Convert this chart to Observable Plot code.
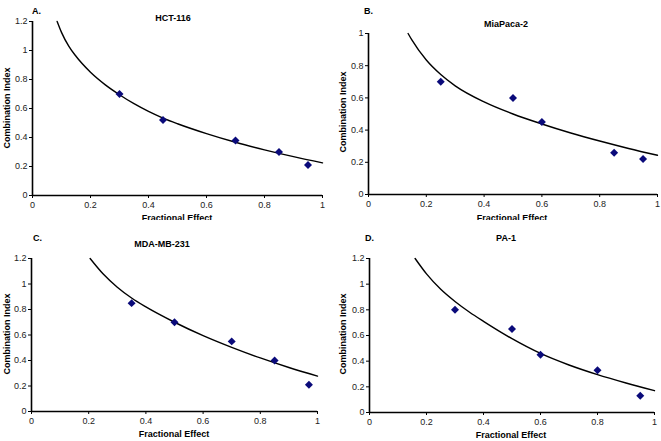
<!DOCTYPE html>
<html>
<head>
<meta charset="utf-8">
<script src="https://cdn.jsdelivr.net/npm/d3@7"></script>
<script src="https://cdn.jsdelivr.net/npm/@observablehq/plot@0.6"></script>
<style>
  html, body { margin: 0; padding: 0; background: #fff; }
  #root { position: relative; width: 661px; height: 441px; overflow: hidden; font-family: "Liberation Sans", Arial, sans-serif; }
  .panel { position: absolute; }
  .lbl { position: absolute; font-size: 9px; font-weight: bold; color: #000; white-space: nowrap; }
  .center { transform: translate(-50%, -50%); }
  .rot { transform: translate(-50%, -50%) rotate(-90deg); }
</style>
</head>
<body>
<div id="root"></div>
<script>
// ---- Data ----
const xTicks = [0, 0.2, 0.4, 0.6, 0.8, 1];
const yTicks12 = [0, 0.2, 0.4, 0.6, 0.8, 1, 1.2];
const yTicks10 = [0, 0.2, 0.4, 0.6, 0.8, 1];

// A. HCT-116
const faA = [0.3, 0.45, 0.7, 0.85, 0.95];
const ciA = [0.7, 0.52, 0.38, 0.3, 0.21];
const curveFaA = [0.085, 0.1, 0.125, 0.15, 0.2, 0.25, 0.3, 0.35, 0.4, 0.45, 0.5, 0.6, 0.7, 0.8, 0.9, 1.0];
const curveCiA = [1.2, 1.125, 1.03, 0.96, 0.85, 0.765, 0.695, 0.633, 0.58, 0.534, 0.495, 0.427, 0.367, 0.315, 0.268, 0.225];

// B. MiaPaca-2
const faB = [0.25, 0.5, 0.6, 0.85, 0.95];
const ciB = [0.7, 0.6, 0.45, 0.26, 0.22];
const curveFaB = [0.137, 0.15, 0.2, 0.25, 0.3, 0.4, 0.5, 0.6, 0.7, 0.8, 0.9, 1.0];
const curveCiB = [1.0, 0.96, 0.835, 0.745, 0.675, 0.575, 0.5, 0.438, 0.382, 0.332, 0.286, 0.244];

// C. MDA-MB-231
const faC = [0.35, 0.5, 0.7, 0.85, 0.97];
const ciC = [0.85, 0.7, 0.55, 0.4, 0.21];
const curveFaC = [0.205, 0.25, 0.3, 0.35, 0.4, 0.5, 0.6, 0.7, 0.8, 0.9, 1.0];
const curveCiC = [1.2, 1.08, 0.975, 0.89, 0.82, 0.7, 0.595, 0.503, 0.42, 0.345, 0.278];

// D. PA-1
const faD = [0.3, 0.5, 0.6, 0.8, 0.95];
const ciD = [0.8, 0.65, 0.45, 0.33, 0.13];
const curveFaD = [0.16, 0.2, 0.25, 0.3, 0.35, 0.4, 0.5, 0.6, 0.7, 0.8, 0.9, 1.0];
const curveCiD = [1.2, 1.08, 0.96, 0.865, 0.783, 0.71, 0.575, 0.46, 0.37, 0.295, 0.23, 0.17];

const panels = [
  {letter: "A.", title: "HCT-116", fa: faA, ci: ciA, cfa: curveFaA, cci: curveCiA, yMax: 1.2, yTicks: yTicks12,
   left: 0, top: 0, width: 330, height: 220, mL: 32, mR: 8, mT: 21, mB: 25,
   letterPos: [32, 6], titlePos: [173, 18], xLabPos: [177, 218], yLabPos: [7, 108]},
  {letter: "B.", title: "MiaPaca-2", fa: faB, ci: ciB, cfa: curveFaB, cci: curveCiB, yMax: 1.0, yTicks: yTicks10,
   left: 330, top: 0, width: 331, height: 220, mL: 38, mR: 4, mT: 33, mB: 26,
   letterPos: [364, 6], titlePos: [506, 24], xLabPos: [512, 218], yLabPos: [343, 112]},
  {letter: "C.", title: "MDA-MB-231", fa: faC, ci: ciC, cfa: curveFaC, cci: curveCiC, yMax: 1.2, yTicks: yTicks12,
   left: 0, top: 220, width: 330, height: 221, mL: 31, mR: 13, mT: 38, mB: 30,
   letterPos: [33, 233], titlePos: [162, 244], xLabPos: [174, 434], yLabPos: [7, 334]},
  {letter: "D.", title: "PA-1", fa: faD, ci: ciD, cfa: curveFaD, cci: curveCiD, yMax: 1.2, yTicks: yTicks12,
   left: 330, top: 220, width: 331, height: 221, mL: 39, mR: 7, mT: 38, mB: 29,
   letterPos: [365, 233], titlePos: [506, 238], xLabPos: [511, 435], yLabPos: [343, 334]}
];

const root = document.getElementById("root");
const fmt = d => String(+d.toFixed(1));

function addLabel(text, pos, cls) {
  const el = document.createElement("div");
  el.className = "lbl " + cls;
  el.textContent = text;
  el.style.left = pos[0] + "px";
  el.style.top = pos[1] + "px";
  root.appendChild(el);
}

for (const p of panels) {
  const points = p.fa.map((x, i) => ({x, y: p.ci[i]}));
  const curve = p.cfa.map((x, i) => ({x, y: p.cci[i]}));
  const chart = Plot.plot({
    width: p.width,
    height: p.height,
    marginLeft: p.mL,
    marginRight: p.mR,
    marginTop: p.mT,
    marginBottom: p.mB,
    style: {fontFamily: "'Liberation Sans', Arial, sans-serif", fontSize: "9px", background: "white", overflow: "visible"},
    x: {domain: [0, 1]},
    y: {domain: [0, p.yMax]},
    marks: [
      Plot.axisX({ticks: xTicks, tickFormat: fmt, tickSize: 3, tickPadding: 3, tickWidth: 1.5, label: null, fill: "#222"}),
      Plot.axisY({ticks: p.yTicks, tickFormat: fmt, tickSize: 3, tickPadding: 2, tickWidth: 1.5, label: null, fill: "#222"}),
      Plot.ruleY([0], {stroke: "#000", strokeWidth: 1.6}),
      Plot.ruleX([0], {stroke: "#000", strokeWidth: 1.6}),
      Plot.line(curve, {x: "x", y: "y", stroke: "#000", strokeWidth: 1.4, curve: "monotone-x"}),
      Plot.dot(points, {x: "x", y: "y", symbol: "diamond2", r: 3.6, fill: "#0a0a7a", stroke: "none"})
    ]
  });
  const wrap = document.createElement("div");
  wrap.className = "panel";
  wrap.style.left = p.left + "px";
  wrap.style.top = p.top + "px";
  wrap.appendChild(chart);
  root.appendChild(wrap);
  addLabel(p.letter, p.letterPos, "");
  addLabel(p.title, p.titlePos, "center");
  addLabel("Fractional Effect", p.xLabPos, "center");
  addLabel("Combination Index", p.yLabPos, "rot");
}
</script>
</body>
</html>
